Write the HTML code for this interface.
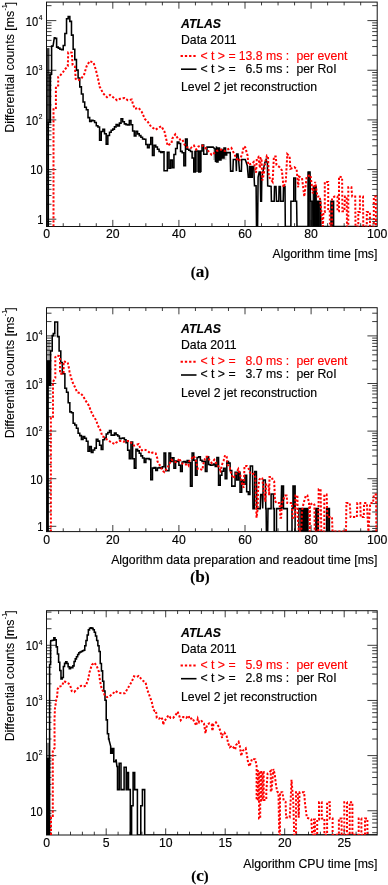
<!DOCTYPE html>
<html><head><meta charset="utf-8"><style>
html,body{margin:0;padding:0;background:#fff;width:388px;height:885px;overflow:hidden}
svg text{font-family:"Liberation Sans",sans-serif;font-size:12.25px;fill:#000;stroke:#000;stroke-width:0.15px}
svg .red text{fill:#f00;stroke:#f00}
svg text.yl{font-size:12.1px}
svg text.yt{font-size:12.35px;stroke-width:0.08px}
svg text.cap{font-family:"Liberation Serif",serif;font-weight:bold;font-size:14.6px}
</style></head><body>
<svg width="388" height="885" viewBox="0 0 388 885" style="position:absolute;left:0;top:0;filter:blur(0.35px)"><rect width="388" height="885" fill="#fff"/><path d="M63.23 226.50V223.20M63.23 2.10V5.40M79.75 226.50V223.20M79.75 2.10V5.40M96.28 226.50V223.20M96.28 2.10V5.40M112.80 226.50V219.90M112.80 2.10V8.70M129.32 226.50V223.20M129.32 2.10V5.40M145.85 226.50V223.20M145.85 2.10V5.40M162.38 226.50V223.20M162.38 2.10V5.40M178.90 226.50V219.90M178.90 2.10V8.70M195.43 226.50V223.20M195.43 2.10V5.40M211.95 226.50V223.20M211.95 2.10V5.40M228.48 226.50V223.20M228.48 2.10V5.40M245.00 226.50V219.90M245.00 2.10V8.70M261.53 226.50V223.20M261.53 2.10V5.40M278.05 226.50V223.20M278.05 2.10V5.40M294.57 226.50V223.20M294.57 2.10V5.40M311.10 226.50V219.90M311.10 2.10V8.70M327.62 226.50V223.20M327.62 2.10V5.40M344.15 226.50V223.20M344.15 2.10V5.40M360.68 226.50V223.20M360.68 2.10V5.40M46.50 224.01H51.50M377.20 224.01H372.20M46.50 221.47H51.50M377.20 221.47H372.20M46.50 219.20H56.30M377.20 219.20H367.40M46.50 204.25H51.50M377.20 204.25H372.20M46.50 195.51H51.50M377.20 195.51H372.20M46.50 189.31H51.50M377.20 189.31H372.20M46.50 184.50H51.50M377.20 184.50H372.20M46.50 180.56H51.50M377.20 180.56H372.20M46.50 177.24H51.50M377.20 177.24H372.20M46.50 174.36H51.50M377.20 174.36H372.20M46.50 171.82H51.50M377.20 171.82H372.20M46.50 169.55H56.30M377.20 169.55H367.40M46.50 154.60H51.50M377.20 154.60H372.20M46.50 145.86H51.50M377.20 145.86H372.20M46.50 139.66H51.50M377.20 139.66H372.20M46.50 134.85H51.50M377.20 134.85H372.20M46.50 130.91H51.50M377.20 130.91H372.20M46.50 127.59H51.50M377.20 127.59H372.20M46.50 124.71H51.50M377.20 124.71H372.20M46.50 122.17H51.50M377.20 122.17H372.20M46.50 119.90H56.30M377.20 119.90H367.40M46.50 104.95H51.50M377.20 104.95H372.20M46.50 96.21H51.50M377.20 96.21H372.20M46.50 90.01H51.50M377.20 90.01H372.20M46.50 85.20H51.50M377.20 85.20H372.20M46.50 81.26H51.50M377.20 81.26H372.20M46.50 77.94H51.50M377.20 77.94H372.20M46.50 75.06H51.50M377.20 75.06H372.20M46.50 72.52H51.50M377.20 72.52H372.20M46.50 70.25H56.30M377.20 70.25H367.40M46.50 55.30H51.50M377.20 55.30H372.20M46.50 46.56H51.50M377.20 46.56H372.20M46.50 40.36H51.50M377.20 40.36H372.20M46.50 35.55H51.50M377.20 35.55H372.20M46.50 31.61H51.50M377.20 31.61H372.20M46.50 28.29H51.50M377.20 28.29H372.20M46.50 25.41H51.50M377.20 25.41H372.20M46.50 22.87H51.50M377.20 22.87H372.20M46.50 20.60H56.30M377.20 20.60H367.40M46.50 5.65H51.50M377.20 5.65H372.20" stroke="#1a1a1a" stroke-width="0.85" fill="none"/><rect x="46.5" y="2.1" width="330.70" height="224.40" stroke="#111" stroke-width="1.0" fill="none"/><text x="46.70" y="238.3" text-anchor="middle">0</text><text x="112.80" y="238.3" text-anchor="middle">20</text><text x="178.90" y="238.3" text-anchor="middle">40</text><text x="245.00" y="238.3" text-anchor="middle">60</text><text x="311.10" y="238.3" text-anchor="middle">80</text><text x="377.20" y="238.3" text-anchor="middle">100</text><text class="yl" transform="translate(43.4 224.05) scale(0.92 1)" text-anchor="end">1</text><text class="yl" transform="translate(42.6 174.40) scale(0.92 1)" text-anchor="end">10</text><text class="yl" transform="translate(42.4 124.95) scale(0.92 1)" text-anchor="end">10<tspan dy="-5.6" dx="0.6" font-size="7.2">2</tspan></text><text class="yl" transform="translate(42.4 75.30) scale(0.92 1)" text-anchor="end">10<tspan dy="-5.6" dx="0.6" font-size="7.2">3</tspan></text><text class="yl" transform="translate(42.4 25.65) scale(0.92 1)" text-anchor="end">10<tspan dy="-5.6" dx="0.6" font-size="7.2">4</tspan></text><text class="yt" transform="translate(13.7 1.8) rotate(-90)" text-anchor="end">Differential counts [ms<tspan dy="-6.8" dx="0.3" font-size="7">-1</tspan><tspan dy="6.8" dx="-0.9">]</tspan></text><text x="377.4" y="258.2" text-anchor="end">Algorithm time [ms]</text><text x="200" y="277.2" text-anchor="middle" class="cap">(<tspan style="font-size:17.2px">a</tspan>)</text><text x="181" y="27.6" font-weight="bold" font-style="italic">ATLAS</text><text x="181" y="43.6">Data 2011</text><path d="M180.6 55.9H195.8" stroke="#f00" stroke-width="2" stroke-dasharray="2.3 1.95"/><g class="red"><text x="200.5" y="59.6">&lt; t &gt; =</text><text x="262.5" y="59.6" text-anchor="end">13.8</text><text x="266" y="59.6">ms :</text><text x="296.4" y="59.6">per event</text></g><path d="M181 69.2H196.5" stroke="#000" stroke-width="1.6"/><g fill="#000"><text x="200.5" y="72.6">&lt; t &gt; =</text><text x="262.5" y="72.6" text-anchor="end">6.5</text><text x="266" y="72.6">ms :</text><text x="296.4" y="72.6">per RoI</text></g><text x="181" y="91.4">Level 2 jet reconstruction</text><path d="M63.23 531.60V528.30M63.23 307.70V311.00M79.75 531.60V528.30M79.75 307.70V311.00M96.28 531.60V528.30M96.28 307.70V311.00M112.80 531.60V525.00M112.80 307.70V314.30M129.32 531.60V528.30M129.32 307.70V311.00M145.85 531.60V528.30M145.85 307.70V311.00M162.38 531.60V528.30M162.38 307.70V311.00M178.90 531.60V525.00M178.90 307.70V314.30M195.43 531.60V528.30M195.43 307.70V311.00M211.95 531.60V528.30M211.95 307.70V311.00M228.48 531.60V528.30M228.48 307.70V311.00M245.00 531.60V525.00M245.00 307.70V314.30M261.53 531.60V528.30M261.53 307.70V311.00M278.05 531.60V528.30M278.05 307.70V311.00M294.57 531.60V528.30M294.57 307.70V311.00M311.10 531.60V525.00M311.10 307.70V314.30M327.62 531.60V528.30M327.62 307.70V311.00M344.15 531.60V528.30M344.15 307.70V311.00M360.68 531.60V528.30M360.68 307.70V311.00M46.50 530.91H51.50M377.20 530.91H372.20M46.50 528.48H51.50M377.20 528.48H372.20M46.50 526.30H56.30M377.20 526.30H367.40M46.50 511.97H51.50M377.20 511.97H372.20M46.50 503.59H51.50M377.20 503.59H372.20M46.50 497.64H51.50M377.20 497.64H372.20M46.50 493.03H51.50M377.20 493.03H372.20M46.50 489.26H51.50M377.20 489.26H372.20M46.50 486.07H51.50M377.20 486.07H372.20M46.50 483.31H51.50M377.20 483.31H372.20M46.50 480.88H51.50M377.20 480.88H372.20M46.50 478.70H56.30M377.20 478.70H367.40M46.50 464.37H51.50M377.20 464.37H372.20M46.50 455.99H51.50M377.20 455.99H372.20M46.50 450.04H51.50M377.20 450.04H372.20M46.50 445.43H51.50M377.20 445.43H372.20M46.50 441.66H51.50M377.20 441.66H372.20M46.50 438.47H51.50M377.20 438.47H372.20M46.50 435.71H51.50M377.20 435.71H372.20M46.50 433.28H51.50M377.20 433.28H372.20M46.50 431.10H56.30M377.20 431.10H367.40M46.50 416.77H51.50M377.20 416.77H372.20M46.50 408.39H51.50M377.20 408.39H372.20M46.50 402.44H51.50M377.20 402.44H372.20M46.50 397.83H51.50M377.20 397.83H372.20M46.50 394.06H51.50M377.20 394.06H372.20M46.50 390.87H51.50M377.20 390.87H372.20M46.50 388.11H51.50M377.20 388.11H372.20M46.50 385.68H51.50M377.20 385.68H372.20M46.50 383.50H56.30M377.20 383.50H367.40M46.50 369.17H51.50M377.20 369.17H372.20M46.50 360.79H51.50M377.20 360.79H372.20M46.50 354.84H51.50M377.20 354.84H372.20M46.50 350.23H51.50M377.20 350.23H372.20M46.50 346.46H51.50M377.20 346.46H372.20M46.50 343.27H51.50M377.20 343.27H372.20M46.50 340.51H51.50M377.20 340.51H372.20M46.50 338.08H51.50M377.20 338.08H372.20M46.50 335.90H56.30M377.20 335.90H367.40M46.50 321.57H51.50M377.20 321.57H372.20M46.50 313.19H51.50M377.20 313.19H372.20" stroke="#1a1a1a" stroke-width="0.85" fill="none"/><rect x="46.5" y="307.7" width="330.70" height="223.90" stroke="#111" stroke-width="1.0" fill="none"/><text x="46.70" y="544.0" text-anchor="middle">0</text><text x="112.80" y="544.0" text-anchor="middle">20</text><text x="178.90" y="544.0" text-anchor="middle">40</text><text x="245.00" y="544.0" text-anchor="middle">60</text><text x="311.10" y="544.0" text-anchor="middle">80</text><text x="377.20" y="544.0" text-anchor="middle">100</text><text class="yl" transform="translate(43.4 531.15) scale(0.92 1)" text-anchor="end">1</text><text class="yl" transform="translate(42.6 483.55) scale(0.92 1)" text-anchor="end">10</text><text class="yl" transform="translate(42.4 436.15) scale(0.92 1)" text-anchor="end">10<tspan dy="-5.6" dx="0.6" font-size="7.2">2</tspan></text><text class="yl" transform="translate(42.4 388.55) scale(0.92 1)" text-anchor="end">10<tspan dy="-5.6" dx="0.6" font-size="7.2">3</tspan></text><text class="yl" transform="translate(42.4 340.95) scale(0.92 1)" text-anchor="end">10<tspan dy="-5.6" dx="0.6" font-size="7.2">4</tspan></text><text class="yt" transform="translate(13.7 307.4) rotate(-90)" text-anchor="end">Differential counts [ms<tspan dy="-6.8" dx="0.3" font-size="7">-1</tspan><tspan dy="6.8" dx="-0.9">]</tspan></text><text x="377.4" y="564.0" text-anchor="end">Algorithm data preparation and readout time [ms]</text><text x="200" y="582.4" text-anchor="middle" class="cap">(<tspan style="font-size:17.2px">b</tspan>)</text><text x="181" y="333.4" font-weight="bold" font-style="italic">ATLAS</text><text x="181" y="349.4">Data 2011</text><path d="M180.6 361.7H195.8" stroke="#f00" stroke-width="2" stroke-dasharray="2.3 1.95"/><g class="red"><text x="200.5" y="365.4">&lt; t &gt; =</text><text x="262.5" y="365.4" text-anchor="end">8.0</text><text x="266" y="365.4">ms :</text><text x="296.4" y="365.4">per event</text></g><path d="M181 375.0H196.5" stroke="#000" stroke-width="1.6"/><g fill="#000"><text x="200.5" y="378.4">&lt; t &gt; =</text><text x="262.5" y="378.4" text-anchor="end">3.7</text><text x="266" y="378.4">ms :</text><text x="296.4" y="378.4">per RoI</text></g><text x="181" y="397.2">Level 2 jet reconstruction</text><path d="M58.60 835.00V831.70M58.60 610.70V614.00M70.50 835.00V831.70M70.50 610.70V614.00M82.40 835.00V831.70M82.40 610.70V614.00M94.30 835.00V831.70M94.30 610.70V614.00M106.20 835.00V828.40M106.20 610.70V617.30M118.10 835.00V831.70M118.10 610.70V614.00M130.00 835.00V831.70M130.00 610.70V614.00M141.90 835.00V831.70M141.90 610.70V614.00M153.80 835.00V831.70M153.80 610.70V614.00M165.70 835.00V828.40M165.70 610.70V617.30M177.60 835.00V831.70M177.60 610.70V614.00M189.50 835.00V831.70M189.50 610.70V614.00M201.40 835.00V831.70M201.40 610.70V614.00M213.30 835.00V831.70M213.30 610.70V614.00M225.20 835.00V828.40M225.20 610.70V617.30M237.10 835.00V831.70M237.10 610.70V614.00M249.00 835.00V831.70M249.00 610.70V614.00M260.90 835.00V831.70M260.90 610.70V614.00M272.80 835.00V831.70M272.80 610.70V614.00M284.70 835.00V828.40M284.70 610.70V617.30M296.60 835.00V831.70M296.60 610.70V614.00M308.50 835.00V831.70M308.50 610.70V614.00M320.40 835.00V831.70M320.40 610.70V614.00M332.30 835.00V831.70M332.30 610.70V614.00M344.20 835.00V828.40M344.20 610.70V617.30M356.10 835.00V831.70M356.10 610.70V614.00M368.00 835.00V831.70M368.00 610.70V614.00M46.50 832.70H51.50M377.20 832.70H372.20M46.50 827.35H51.50M377.20 827.35H372.20M46.50 822.98H51.50M377.20 822.98H372.20M46.50 819.29H51.50M377.20 819.29H372.20M46.50 816.09H51.50M377.20 816.09H372.20M46.50 813.27H51.50M377.20 813.27H372.20M46.50 810.75H56.30M377.20 810.75H367.40M46.50 794.15H51.50M377.20 794.15H372.20M46.50 784.44H51.50M377.20 784.44H372.20M46.50 777.55H51.50M377.20 777.55H372.20M46.50 772.20H51.50M377.20 772.20H372.20M46.50 767.83H51.50M377.20 767.83H372.20M46.50 764.14H51.50M377.20 764.14H372.20M46.50 760.94H51.50M377.20 760.94H372.20M46.50 758.12H51.50M377.20 758.12H372.20M46.50 755.60H56.30M377.20 755.60H367.40M46.50 739.00H51.50M377.20 739.00H372.20M46.50 729.29H51.50M377.20 729.29H372.20M46.50 722.40H51.50M377.20 722.40H372.20M46.50 717.05H51.50M377.20 717.05H372.20M46.50 712.68H51.50M377.20 712.68H372.20M46.50 708.99H51.50M377.20 708.99H372.20M46.50 705.79H51.50M377.20 705.79H372.20M46.50 702.97H51.50M377.20 702.97H372.20M46.50 700.45H56.30M377.20 700.45H367.40M46.50 683.85H51.50M377.20 683.85H372.20M46.50 674.14H51.50M377.20 674.14H372.20M46.50 667.25H51.50M377.20 667.25H372.20M46.50 661.90H51.50M377.20 661.90H372.20M46.50 657.53H51.50M377.20 657.53H372.20M46.50 653.84H51.50M377.20 653.84H372.20M46.50 650.64H51.50M377.20 650.64H372.20M46.50 647.82H51.50M377.20 647.82H372.20M46.50 645.30H56.30M377.20 645.30H367.40M46.50 628.70H51.50M377.20 628.70H372.20M46.50 618.99H51.50M377.20 618.99H372.20M46.50 612.10H51.50M377.20 612.10H372.20" stroke="#1a1a1a" stroke-width="0.85" fill="none"/><rect x="46.5" y="610.7" width="330.70" height="224.30" stroke="#111" stroke-width="1.0" fill="none"/><text x="46.70" y="847.0" text-anchor="middle">0</text><text x="106.20" y="847.0" text-anchor="middle">5</text><text x="165.70" y="847.0" text-anchor="middle">10</text><text x="225.20" y="847.0" text-anchor="middle">15</text><text x="284.70" y="847.0" text-anchor="middle">20</text><text x="344.20" y="847.0" text-anchor="middle">25</text><text class="yl" transform="translate(42.6 815.60) scale(0.92 1)" text-anchor="end">10</text><text class="yl" transform="translate(42.4 760.65) scale(0.92 1)" text-anchor="end">10<tspan dy="-5.6" dx="0.6" font-size="7.2">2</tspan></text><text class="yl" transform="translate(42.4 705.50) scale(0.92 1)" text-anchor="end">10<tspan dy="-5.6" dx="0.6" font-size="7.2">3</tspan></text><text class="yl" transform="translate(42.4 650.35) scale(0.92 1)" text-anchor="end">10<tspan dy="-5.6" dx="0.6" font-size="7.2">4</tspan></text><text class="yt" transform="translate(13.7 610.4000000000001) rotate(-90)" text-anchor="end">Differential counts [ms<tspan dy="-6.8" dx="0.3" font-size="7">-1</tspan><tspan dy="6.8" dx="-0.9">]</tspan></text><text x="377.4" y="868.0" text-anchor="end">Algorithm CPU time [ms]</text><text x="200" y="881.3" text-anchor="middle" class="cap">(<tspan style="font-size:17.2px">c</tspan>)</text><text x="181" y="637.1" font-weight="bold" font-style="italic">ATLAS</text><text x="181" y="653.1">Data 2011</text><path d="M180.6 665.4H195.8" stroke="#f00" stroke-width="2" stroke-dasharray="2.3 1.95"/><g class="red"><text x="200.5" y="669.1">&lt; t &gt; =</text><text x="262.5" y="669.1" text-anchor="end">5.9</text><text x="266" y="669.1">ms :</text><text x="296.4" y="669.1">per event</text></g><path d="M181 678.7H196.5" stroke="#000" stroke-width="1.6"/><g fill="#000"><text x="200.5" y="682.1">&lt; t &gt; =</text><text x="262.5" y="682.1" text-anchor="end">2.8</text><text x="266" y="682.1">ms :</text><text x="296.4" y="682.1">per RoI</text></g><text x="181" y="700.9">Level 2 jet reconstruction</text><g clip-path="url(#ca)"><rect x="46.5" y="48.1" width="2.4" height="178.4" fill="#000" fill-opacity="0.8"/><rect x="48.9" y="74.0" width="1.3" height="48.4" fill="#000" fill-opacity="0.8"/><rect x="48.2" y="48.1" width="1.8" height="26" fill="#000" fill-opacity="0.35"/><rect x="193.8" y="151" width="8.1" height="21" fill="#000" fill-opacity="0.7"/><rect x="213" y="148" width="13.5" height="12" fill="#000" fill-opacity="0.2"/><rect x="307.6" y="171.9" width="2.6" height="54.6" fill="#000" fill-opacity="0.9"/><rect x="310.2" y="201.2" width="2.4" height="25.3" fill="#000" fill-opacity="0.9"/><rect x="312.6" y="186.0" width="4.0" height="40.5" fill="#000" fill-opacity="0.9"/><rect x="317.4" y="201.2" width="3.4" height="25.3" fill="#000" fill-opacity="0.9"/><rect x="331.0" y="201.2" width="3.0" height="25.3" fill="#000" fill-opacity="0.9"/><path d="M48.30 226.50 L48.30 122.40 L50.40 122.40 L50.40 74.10 L51.60 74.10 L51.60 46.10 L52.90 46.10 L53.20 45.10 L54.30 37.70 L54.30 37.70 L54.96 37.70 L54.96 38.36 L56.62 38.36 L56.62 47.10 L58.27 47.10 L58.27 48.12 L59.92 48.12 L59.92 49.20 L61.57 49.20 L61.57 49.70 L63.23 49.70 L63.23 45.48 L64.88 45.48 L64.88 33.53 L66.53 33.53 L66.53 18.81 L68.18 18.81 L68.18 16.46 L69.84 16.46 L69.84 21.35 L71.49 21.35 L71.49 35.13 L73.14 35.13 L73.14 49.23 L74.79 49.23 L74.79 59.62 L76.45 59.62 L76.45 70.12 L78.10 70.12 L78.10 77.97 L79.75 77.97 L79.75 86.88 L81.40 86.88 L81.40 94.07 L83.06 94.07 L83.06 101.90 L84.71 101.90 L84.71 107.33 L86.36 107.33 L86.36 109.68 L88.01 109.68 L88.01 117.60 L89.67 117.60 L89.67 121.54 L91.32 121.54 L91.32 120.39 L92.97 120.39 L92.97 120.76 L94.62 120.76 L94.62 122.50 L96.28 122.50 L96.28 125.80 L97.93 125.80 L97.93 126.93 L99.58 126.93 L99.58 140.17 L101.23 140.17 L101.23 131.50 L102.89 131.50 L102.89 129.37 L104.54 129.37 L104.54 133.72 L106.19 133.72 L106.19 144.31 L107.84 144.31 L107.84 135.56 L109.50 135.56 L109.50 132.18 L111.15 132.18 L111.15 130.33 L112.80 130.33 L112.80 129.10 L114.45 129.10 L114.45 126.85 L116.11 126.85 L116.11 124.40 L117.76 124.40 L117.76 125.88 L119.41 125.88 L119.41 123.14 L121.06 123.14 L121.06 118.66 L122.72 118.66 L122.72 121.66 L124.37 121.66 L124.37 123.89 L126.02 123.89 L126.02 124.60 L127.67 124.60 L127.67 124.98 L129.32 124.98 L129.32 120.54 L130.98 120.54 L130.98 124.67 L132.63 124.67 L132.63 130.93 L134.28 130.93 L134.28 135.98 L135.94 135.98 L135.94 131.23 L137.59 131.23 L137.59 133.85 L139.24 133.85 L139.24 135.62 L140.89 135.62 L140.89 137.23 L142.55 137.23 L142.55 139.07 L144.20 139.07 L144.20 139.17 L145.85 139.17 L145.85 144.54 L147.50 144.54 L147.50 147.64 L149.16 147.64 L149.16 144.59 L150.81 144.59 L150.81 137.58 L152.46 137.58 L152.46 155.40 L154.11 155.40 L154.11 145.16 L155.77 145.16 L155.77 147.06 L157.42 147.06 L157.42 149.20 L159.07 149.20 L159.07 151.40 L160.72 151.40 L160.72 152.52 L162.38 152.52 L162.38 151.67 L164.03 151.67 L164.03 170.80 L165.68 170.80 L165.68 170.80 L167.33 170.80 L167.33 152.30 L168.99 152.30 L168.99 168.21 L170.64 168.21 L170.64 159.91 L172.29 159.91 L172.29 167.70 L173.94 167.70 L173.94 154.40 L175.60 154.40 L175.60 148.53 L177.25 148.53 L177.25 142.13 L178.90 142.13 L178.90 143.55 L180.55 143.55 L180.55 151.35 L182.20 151.35 L182.20 152.70 L183.86 152.70 L183.86 165.70 L185.51 165.70 L185.51 138.90 L187.16 138.90 L187.16 149.31 L188.81 149.31 L188.81 150.29 L190.47 150.29 L190.47 151.40 L192.12 151.40 L192.12 157.96 L193.77 157.96 L193.77 171.90 L195.43 171.90 L195.43 151.00 L197.08 151.00 L197.08 151.00 L198.73 151.00 L198.73 171.90 L200.38 171.90 L200.38 151.00 L202.04 151.00 L202.04 145.00 L203.69 145.00 L203.69 154.30 L205.34 154.30 L205.34 154.30 L206.99 154.30 L206.99 147.10 L208.65 147.10 L208.65 147.10 L210.30 147.10 L210.30 147.10 L211.95 147.10 L211.95 147.10 L213.20 147.10 L213.20 147.10 L215.00 149.00 L215.50 161.90 L216.50 146.40 L216.50 161.90 L218.00 161.90 L218.00 148.00 L219.50 148.00 L219.50 160.00 L221.00 160.00 L221.00 150.00 L222.50 150.00 L222.50 158.00 L224.00 158.00 L224.00 148.00 L225.50 148.00 L225.50 155.00 L226.70 155.00 L226.70 152.60 L230.20 152.60 L230.60 171.10 L232.90 171.10 L233.30 159.50 L236.00 159.50 L236.40 171.10 L236.70 154.10 L238.00 154.10 L238.60 159.50 L239.50 171.10 L241.40 171.10 L241.70 159.50 L245.20 159.50 L246.30 162.60 L247.30 165.70 L248.30 177.30 L249.60 177.30 L249.60 166.50 L250.90 166.50 L250.90 177.30 L252.20 177.30 L252.20 166.50 L253.70 166.50 L254.50 185.80 L256.10 185.80 L256.50 226.50 L257.60 226.50 L258.10 177.30 L259.20 171.90 L260.20 171.90 L260.70 201.30 L261.50 201.30 L261.80 177.30 L264.60 163.40 L266.10 159.50 L267.40 163.40 L267.70 185.80 L271.10 186.50 L271.40 201.20 L274.20 201.20 L274.50 186.50 L276.00 186.50 L276.50 201.20 L278.80 201.20 L279.10 186.50 L280.40 186.50 L280.70 201.20 L283.20 201.20 L283.50 186.50 L285.00 186.50 L285.30 226.50 L290.90 226.50 L290.90 201.20 L293.80 201.20 L293.80 178.00 L295.50 178.00 L295.50 201.20 L296.60 201.20 L297.00 226.50 L308.20 226.50 L308.20 171.90 L310.00 171.90 L310.50 201.20 L312.80 201.20 L313.00 226.50 L314.40 226.50 L314.40 186.50 L316.00 186.50 L316.00 226.50 L316.80 226.50 L316.80 201.20 L318.30 201.20 L318.30 226.50 L318.60 226.50 L318.60 201.20 L320.60 201.20 L320.90 226.50 L331.00 226.50 L331.00 201.20 L333.60 201.20 L333.60 226.50 L377.00 226.50" stroke="#000" stroke-width="1.55" fill="none"/><path d="M53.50 226.50 L53.50 108.00 L55.90 108.00 L55.90 86.20 L58.20 85.50 L58.20 77.00 L60.10 75.60 L63.20 71.80 L65.50 68.70 L67.80 66.30 L68.20 52.40 L71.80 52.60 L72.60 65.00 L74.90 66.50 L75.70 78.90 L78.00 80.40 L81.10 78.90 L84.20 74.20 L86.50 66.50 L89.60 61.10 L93.50 62.60 L95.80 69.60 L98.10 78.90 L99.70 87.00 L100.00 87.20 L103.10 93.30 L107.00 97.20 L110.00 94.90 L113.10 97.20 L117.00 100.30 L120.10 98.80 L124.70 98.00 L127.80 100.30 L131.70 99.50 L133.20 104.90 L134.80 108.80 L138.70 108.00 L141.80 111.90 L144.80 118.90 L147.90 122.00 L151.00 126.60 L155.70 129.70 L158.00 128.00 L161.40 126.30 L164.50 131.70 L166.80 141.70 L167.60 145.60 L171.50 143.30 L172.20 138.70 L175.30 134.30 L178.40 139.40 L182.30 139.40 L184.60 144.80 L186.90 147.20 L190.80 148.00 L193.90 145.60 L196.20 149.50 L198.50 146.40 L202.40 145.60 L207.00 149.50 L211.70 154.90 L212.00 154.90 L216.60 151.00 L221.30 149.50 L225.10 151.00 L227.50 149.50 L231.30 147.90 L233.60 152.60 L236.70 158.80 L239.10 161.10 L242.20 154.10 L243.70 146.40 L245.20 147.20 L247.60 155.70 L248.30 164.90 L252.20 163.40 L253.70 161.90 L256.10 172.70 L256.80 158.80 L258.40 157.20 L259.90 168.00 L260.70 158.00 L261.50 158.00 L262.30 180.40 L263.80 174.20 L265.30 161.90 L266.90 155.70 L268.00 156.40 L268.80 176.50 L272.60 181.90 L273.90 156.40 L275.70 156.40 L276.50 164.90 L279.60 167.20 L281.90 170.30 L283.50 187.30 L285.80 181.10 L287.30 154.10 L289.60 156.40 L290.40 168.80 L294.30 167.20 L296.60 168.80 L298.20 187.30 L298.90 176.50 L302.00 178.00 L304.30 196.60 L306.70 176.50 L310.50 175.00 L312.80 193.50 L315.20 181.90 L317.50 196.60 L319.80 196.60 L321.30 210.50 L322.90 226.50 L323.50 212.00 L324.80 212.00 L324.80 181.90 L328.20 181.90 L328.20 211.30 L329.70 211.30 L330.00 226.50 L332.00 226.50 L332.00 198.10 L334.40 196.60 L337.50 196.60 L337.50 211.30 L339.00 211.30 L339.00 176.50 L342.10 177.30 L342.40 211.30 L344.40 211.30 L344.90 196.60 L346.70 196.60 L347.00 226.50 L348.30 226.50 L348.30 187.30 L351.40 187.30 L352.20 196.60 L355.20 196.60 L355.50 226.50 L358.30 226.50 L358.30 212.00 L359.90 212.00 L359.90 196.60 L363.00 196.60 L363.30 226.50 L366.80 226.50 L366.80 212.00 L369.90 212.00 L370.00 226.50 L373.80 226.50 L373.80 196.60 L375.80 196.60 L376.00 226.50" stroke="#f00" stroke-width="2" fill="none" stroke-dasharray="2.2 1.8"/></g><g clip-path="url(#cb)"><rect x="46.5" y="385" width="2.0" height="146.6" fill="#000" fill-opacity="1"/><rect x="46.5" y="360.3" width="3.9" height="24.8" fill="#000" fill-opacity="1"/><rect x="46.5" y="340" width="3.9" height="20.3" fill="#000" fill-opacity="0.35"/><rect x="300.3" y="508.6" width="7.8" height="23" fill="#000" fill-opacity="0.9"/><rect x="315.5" y="508.6" width="3" height="23" fill="#000" fill-opacity="0.9"/><rect x="326.7" y="508.6" width="3" height="23" fill="#000" fill-opacity="0.9"/><rect x="281.3" y="486.1" width="2.2" height="22.5" fill="#000" fill-opacity="0.9"/><rect x="293" y="486.1" width="2.1" height="22.5" fill="#000" fill-opacity="0.9"/><path d="M48.00 531.60 L48.00 385.10 L50.60 385.10 L50.60 351.00 L52.20 351.00 L52.20 335.60 L53.30 335.60 L53.30 333.60 L54.80 333.60 L54.80 322.00 L57.60 322.00 L57.60 336.60 L59.10 336.60 L59.10 351.00 L60.80 351.00 L60.80 362.40 L62.30 362.40 L62.30 373.80 L63.23 373.80 L63.23 373.80 L64.88 373.80 L64.88 388.20 L66.53 388.20 L66.53 392.22 L68.18 392.22 L68.18 402.68 L69.84 402.68 L69.84 411.89 L71.49 411.89 L71.49 412.78 L73.14 412.78 L73.14 423.30 L74.79 423.30 L74.79 424.97 L76.45 424.97 L76.45 428.22 L78.10 428.22 L78.10 433.16 L79.75 433.16 L79.75 435.62 L81.40 435.62 L81.40 439.47 L83.06 439.47 L83.06 436.60 L84.71 436.60 L84.71 438.27 L86.36 438.27 L86.36 441.30 L88.01 441.30 L88.01 451.30 L89.67 451.30 L89.67 446.61 L91.32 446.61 L91.32 452.43 L92.97 452.43 L92.97 450.05 L94.62 450.05 L94.62 448.11 L96.28 448.11 L96.28 439.23 L97.93 439.23 L97.93 441.13 L99.58 441.13 L99.58 445.27 L101.23 445.27 L101.23 449.50 L102.89 449.50 L102.89 439.76 L104.54 439.76 L104.54 437.94 L106.19 437.94 L106.19 434.09 L107.84 434.09 L107.84 432.48 L109.50 432.48 L109.50 430.49 L111.15 430.49 L111.15 435.20 L112.80 435.20 L112.80 435.12 L114.45 435.12 L114.45 433.12 L116.11 433.12 L116.11 434.79 L117.76 434.79 L117.76 436.02 L119.41 436.02 L119.41 438.68 L121.06 438.68 L121.06 438.26 L122.72 438.26 L122.72 437.94 L124.37 437.94 L124.37 439.66 L126.02 439.66 L126.02 442.64 L127.67 442.64 L127.67 450.21 L129.32 450.21 L129.32 458.80 L130.98 458.80 L130.98 441.90 L132.63 441.90 L132.63 458.69 L134.28 458.69 L134.28 468.10 L135.94 468.10 L135.94 449.34 L137.59 449.34 L137.59 450.87 L139.24 450.87 L139.24 453.15 L140.89 453.15 L140.89 455.87 L142.55 455.87 L142.55 458.00 L144.20 458.00 L144.20 462.36 L145.85 462.36 L145.85 458.62 L147.50 458.62 L147.50 458.52 L149.16 458.52 L149.16 459.37 L150.81 459.37 L150.81 479.70 L152.46 479.70 L152.46 468.10 L154.11 468.10 L154.11 467.62 L155.77 467.62 L155.77 470.55 L157.42 470.55 L157.42 467.97 L159.07 467.97 L159.07 467.60 L160.72 467.60 L160.72 468.10 L162.38 468.10 L162.38 466.76 L164.03 466.76 L164.03 452.90 L165.68 452.90 L165.68 470.70 L167.33 470.70 L167.33 470.70 L168.99 470.70 L168.99 452.90 L170.64 452.90 L170.64 461.36 L172.29 461.36 L172.29 457.66 L173.94 457.66 L173.94 468.30 L175.60 468.30 L175.60 460.91 L177.25 460.91 L177.25 461.36 L178.90 461.36 L178.90 465.16 L180.55 465.16 L180.55 471.40 L182.20 471.40 L182.20 462.03 L183.86 462.03 L183.86 461.48 L185.51 461.48 L185.51 462.72 L187.16 462.72 L187.16 460.49 L188.81 460.49 L188.81 462.75 L190.47 462.75 L190.47 486.10 L192.12 486.10 L192.12 452.90 L193.77 452.90 L193.77 460.32 L195.43 460.32 L195.43 475.30 L197.08 475.30 L197.08 457.40 L198.73 457.40 L198.73 456.80 L200.38 456.80 L200.38 460.20 L202.04 460.20 L202.04 461.40 L203.69 461.40 L203.69 461.38 L205.34 461.38 L205.34 471.40 L206.99 471.40 L206.99 456.80 L208.65 456.80 L208.65 464.56 L210.30 464.56 L210.30 465.11 L211.95 465.11 L211.95 464.97 L213.60 464.97 L213.60 464.00 L215.25 464.00 L215.25 466.44 L216.91 466.44 L216.91 457.50 L218.56 457.50 L218.56 485.12 L220.21 485.12 L220.21 475.30 L221.87 475.30 L221.87 471.16 L223.52 471.16 L223.52 468.30 L225.17 468.30 L225.17 478.64 L226.82 478.64 L226.82 461.40 L228.48 461.40 L228.48 463.13 L230.13 463.13 L230.13 470.60 L231.78 470.60 L231.78 486.10 L233.43 486.10 L233.43 486.10 L235.09 486.10 L235.09 472.20 L236.74 472.20 L236.74 480.00 L238.39 480.00 L238.39 472.20 L240.04 472.20 L240.04 492.27 L241.69 492.27 L241.69 480.32 L243.35 480.32 L243.35 484.22 L245.00 484.22 L245.00 475.30 L246.65 475.30 L246.65 491.67 L248.31 491.67 L248.31 494.57 L249.90 494.57 L249.90 486.10 L250.30 466.00 L252.50 466.00 L253.00 508.60 L254.50 508.60 L254.80 471.40 L256.40 471.40 L256.80 508.60 L260.20 508.60 L260.70 494.60 L262.30 494.60 L262.70 508.60 L263.30 480.00 L265.30 480.00 L265.80 508.60 L266.10 508.60 L266.40 531.60 L267.70 531.60 L268.00 508.60 L271.10 508.60 L271.10 493.90 L273.40 493.90 L273.40 508.60 L274.20 508.60 L274.20 531.60 L276.50 531.60 L276.50 508.60 L281.10 508.60 L281.60 486.10 L283.50 486.10 L283.50 508.60 L287.30 508.60 L287.30 531.60 L292.00 531.60 L292.00 508.60 L293.00 508.60 L293.00 486.10 L295.10 486.10 L295.10 531.60 L298.90 531.60 L298.90 508.60 L301.20 508.60 L301.20 531.60 L302.20 531.60 L302.20 508.60 L303.40 508.60 L303.40 531.60 L304.60 531.60 L304.60 508.60 L305.80 508.60 L305.80 531.60 L306.90 531.60 L306.90 508.60 L307.90 508.60 L307.90 531.60 L315.90 531.60 L315.90 508.60 L318.30 508.60 L318.30 531.60 L326.60 531.60 L326.60 508.60 L329.40 508.60 L329.40 531.60 L377.00 531.60" stroke="#000" stroke-width="1.55" fill="none"/><path d="M50.90 531.60 L50.90 418.30 L53.00 418.30 L53.00 381.80 L55.30 378.00 L55.30 357.30 L56.50 355.60 L59.00 356.00 L60.00 357.50 L60.00 373.80 L63.60 373.80 L63.60 361.40 L67.70 362.40 L68.90 368.00 L69.50 371.50 L71.10 377.70 L72.60 382.30 L74.90 387.00 L77.20 392.40 L80.30 393.10 L82.70 395.50 L85.80 400.90 L88.80 405.50 L91.20 411.70 L93.50 416.30 L96.60 421.00 L97.30 424.30 L99.70 428.90 L100.80 431.00 L102.30 436.40 L104.60 437.20 L107.00 439.50 L109.30 441.00 L111.60 442.60 L114.70 444.10 L116.20 442.60 L119.30 441.00 L121.60 441.00 L124.00 441.80 L126.30 441.00 L129.40 441.00 L131.70 443.30 L134.00 445.70 L136.30 444.90 L138.70 444.10 L140.20 448.00 L141.80 450.30 L144.10 449.50 L146.40 450.30 L148.70 451.90 L150.30 453.40 L152.60 452.60 L155.70 453.40 L157.20 458.00 L157.50 461.40 L159.10 464.50 L160.60 466.00 L162.20 470.70 L164.50 472.20 L167.60 467.60 L169.90 462.90 L171.50 459.80 L173.80 461.40 L176.10 462.20 L177.60 461.40 L179.20 458.30 L180.70 461.40 L183.10 464.50 L186.20 464.50 L188.50 466.00 L189.20 461.40 L193.90 456.00 L196.20 461.40 L197.80 469.10 L200.10 469.10 L202.40 469.90 L203.20 464.50 L205.50 456.80 L207.80 456.80 L209.30 459.80 L211.70 462.90 L214.30 459.80 L215.90 462.90 L218.20 466.00 L220.50 470.70 L222.10 464.50 L223.60 460.60 L225.10 455.20 L226.70 456.80 L227.50 464.50 L229.80 467.60 L231.30 474.50 L233.60 478.40 L236.00 473.80 L238.30 469.10 L240.60 476.10 L242.20 484.60 L243.70 487.70 L244.50 466.00 L246.80 466.00 L248.30 467.60 L249.90 472.20 L251.40 474.50 L253.70 473.80 L255.30 476.90 L256.10 501.60 L256.50 517.80 L257.60 509.30 L258.10 489.20 L259.20 480.00 L260.70 477.60 L262.30 478.40 L263.80 492.30 L265.30 501.60 L266.10 484.60 L268.40 484.60 L269.20 495.40 L269.50 476.90 L271.90 476.90 L272.60 480.00 L274.20 481.50 L275.00 500.80 L276.50 503.10 L279.60 503.10 L280.40 517.80 L281.10 517.80 L281.90 503.10 L285.00 495.40 L286.60 495.40 L287.30 503.10 L292.00 503.10 L292.70 517.80 L295.10 517.80 L295.50 495.40 L297.40 495.40 L297.70 517.80 L298.90 531.60 L301.20 531.60 L302.00 510.90 L303.60 503.10 L305.90 495.40 L307.40 495.40 L309.00 503.10 L309.80 531.60 L310.10 504.70 L312.80 503.10 L314.40 504.70 L314.70 531.60 L318.30 531.60 L318.70 489.20 L320.60 489.20 L321.30 531.60 L324.30 531.60 L324.30 494.60 L326.60 494.60 L327.40 517.10 L332.00 517.10 L332.50 531.60 L346.00 531.60 L346.40 503.10 L349.80 503.10 L350.60 517.10 L356.80 517.10 L357.30 503.10 L360.30 503.10 L360.70 517.10 L363.80 517.10 L364.10 503.10 L366.80 503.10 L367.60 517.10 L368.40 531.60 L370.20 503.10 L373.00 503.10 L373.80 494.60 L376.10 494.60 L376.40 531.60" stroke="#f00" stroke-width="2" fill="none" stroke-dasharray="2.2 1.8"/></g><g clip-path="url(#cc)"><rect x="46.5" y="758" width="2.5" height="77" fill="#000" fill-opacity="1"/><rect x="46.5" y="742.8" width="2.5" height="15.2" fill="#000" fill-opacity="0.5"/><path d="M49.60 835.00 L49.60 664.40 L50.60 664.40 L50.60 641.80 L50.80 640.90 L50.80 640.81 L51.46 640.81 L51.46 640.55 L52.65 640.55 L52.65 640.22 L53.84 640.22 L53.84 637.82 L55.03 637.82 L55.03 639.87 L56.22 639.87 L56.22 646.88 L57.41 646.88 L57.41 654.09 L58.60 654.09 L58.60 662.27 L59.79 662.27 L59.79 670.57 L60.98 670.57 L60.98 678.95 L62.17 678.95 L62.17 677.42 L63.36 677.42 L63.36 666.47 L64.55 666.47 L64.55 663.37 L65.74 663.37 L65.74 661.70 L66.93 661.70 L66.93 663.40 L68.12 663.40 L68.12 666.66 L69.31 666.66 L69.31 668.80 L70.50 668.80 L70.50 667.21 L71.69 667.21 L71.69 667.83 L72.88 667.83 L72.88 665.87 L74.07 665.87 L74.07 661.58 L75.26 661.58 L75.26 658.87 L76.45 658.87 L76.45 656.77 L77.64 656.77 L77.64 654.46 L78.83 654.46 L78.83 652.75 L80.02 652.75 L80.02 652.01 L81.21 652.01 L81.21 651.43 L82.40 651.43 L82.40 650.84 L83.59 650.84 L83.59 650.21 L84.78 650.21 L84.78 645.65 L85.97 645.65 L85.97 640.48 L87.16 640.48 L87.16 634.98 L88.35 634.98 L88.35 629.89 L89.54 629.89 L89.54 628.18 L90.73 628.18 L90.73 627.80 L91.92 627.80 L91.92 628.38 L93.11 628.38 L93.11 629.72 L94.30 629.72 L94.30 632.18 L95.49 632.18 L95.49 636.06 L96.68 636.06 L96.68 640.59 L97.87 640.59 L97.87 645.78 L99.06 645.78 L99.06 651.58 L100.25 651.58 L100.25 663.48 L101.44 663.48 L101.44 670.86 L102.63 670.86 L102.63 681.23 L103.82 681.23 L103.82 691.07 L105.01 691.07 L105.01 700.33 L106.20 700.33 L106.20 719.87 L107.39 719.87 L107.39 733.71 L108.58 733.71 L108.58 738.90 L109.10 738.90 L109.10 740.10 L110.70 746.30 L110.70 753.20 L112.20 753.20 L112.20 748.60 L113.80 748.60 L113.80 761.70 L115.30 761.70 L116.10 759.40 L116.90 766.40 L117.50 766.40 L117.50 789.60 L119.20 789.60 L119.20 763.30 L121.00 763.30 L121.00 789.60 L124.10 789.60 L124.10 767.20 L126.20 767.20 L126.20 789.60 L126.90 789.60 L126.90 772.60 L128.50 772.60 L128.50 789.60 L130.30 789.60 L130.30 835.00 L131.60 835.00 L131.60 805.80 L133.10 805.80 L133.10 772.60 L134.70 772.60 L134.70 789.60 L137.40 789.60 L137.40 835.00 L140.80 835.00 L140.80 805.80 L142.40 805.80 L142.40 789.60 L144.70 789.60 L144.70 835.00 L377.00 835.00" stroke="#000" stroke-width="1.55" fill="none"/><path d="M51.00 835.00 L51.00 816.00 L52.80 816.00 L52.80 750.00 L54.60 748.00 L54.50 720.00 L54.90 708.70 L56.30 699.60 L57.20 696.00 L57.60 689.20 L59.00 686.50 L61.70 686.10 L64.10 681.10 L66.40 682.70 L68.70 683.50 L70.30 685.80 L71.80 691.20 L74.20 692.00 L76.50 689.60 L78.80 687.30 L81.10 685.80 L83.40 686.50 L85.80 685.80 L88.10 679.60 L89.60 671.90 L91.90 664.90 L94.30 662.60 L96.60 665.70 L98.90 671.90 L100.00 681.00 L101.50 687.90 L104.60 694.90 L107.00 697.20 L109.30 696.40 L112.40 694.10 L115.50 691.00 L117.80 692.60 L121.60 693.30 L124.70 693.30 L127.10 689.50 L129.40 685.60 L131.70 681.80 L134.00 676.30 L136.30 677.10 L138.70 675.90 L141.00 678.70 L143.30 681.00 L145.60 682.50 L147.20 689.50 L149.50 695.70 L151.80 701.90 L153.30 709.60 L154.90 711.10 L156.00 711.00 L156.80 717.90 L159.10 718.70 L161.40 717.10 L163.00 721.00 L163.00 724.80 L164.50 721.00 L166.80 717.90 L168.40 715.30 L170.70 717.90 L173.00 717.90 L175.30 715.60 L177.60 711.70 L179.20 715.60 L180.70 720.20 L183.10 717.10 L184.60 717.10 L186.20 717.90 L188.50 715.60 L190.00 719.40 L192.30 717.90 L193.90 721.00 L196.20 725.60 L197.80 718.70 L199.30 722.50 L201.60 721.00 L203.90 723.30 L205.50 733.30 L207.00 724.80 L209.30 723.30 L211.70 724.10 L212.40 731.00 L213.50 724.70 L215.90 722.40 L219.00 727.10 L220.50 731.70 L222.10 737.90 L222.80 733.20 L224.40 732.50 L226.70 736.30 L228.20 743.30 L229.80 747.20 L232.10 745.60 L235.20 749.50 L236.00 745.20 L238.60 741.90 L239.90 746.40 L241.20 756.10 L242.40 751.00 L245.70 748.40 L247.00 755.50 L248.20 763.20 L249.50 766.40 L252.10 758.70 L255.30 759.30 L256.60 765.80 L256.60 800.00 L257.80 800.00 L257.80 771.00 L259.00 771.00 L259.00 818.60 L260.20 818.60 L260.20 771.00 L261.40 771.00 L261.40 800.60 L262.60 800.60 L262.60 772.00 L263.70 772.00 L263.70 800.00 L266.30 800.00 L266.30 791.50 L267.60 773.50 L270.80 770.90 L270.80 791.50 L271.50 791.50 L273.40 769.00 L274.70 774.10 L276.00 785.10 L277.20 791.50 L278.50 792.80 L279.20 834.70 L280.00 834.70 L280.00 792.20 L282.40 792.20 L283.70 800.60 L285.60 801.90 L286.10 817.60 L289.70 817.60 L290.60 801.30 L291.50 779.70 L293.30 801.30 L294.20 834.70 L296.00 834.70 L296.00 792.30 L297.80 792.30 L298.70 817.60 L299.60 792.30 L304.10 792.30 L305.00 803.10 L306.80 817.60 L311.30 819.40 L312.20 834.70 L314.00 834.70 L314.00 819.40 L315.00 819.40 L315.00 834.70 L317.20 834.70 L317.20 819.40 L319.00 819.40 L319.00 802.20 L321.70 802.20 L321.70 818.50 L324.40 818.50 L324.40 834.70 L327.10 834.70 L327.10 802.20 L329.80 802.20 L329.80 818.50 L332.60 818.50 L332.60 834.70 L338.90 834.70 L338.90 818.50 L341.60 818.50 L341.60 834.70 L344.30 834.70 L344.30 802.20 L347.00 802.20 L347.00 834.70 L349.70 834.70 L349.70 802.20 L352.40 802.20 L352.40 834.70 L358.70 834.70 L358.70 818.50 L361.40 818.50 L361.40 834.70 L365.00 834.70 L365.00 818.50 L367.40 818.50 L367.40 834.70" stroke="#f00" stroke-width="2" fill="none" stroke-dasharray="2.2 1.8"/></g><defs><clipPath id="ca"><rect x="46.5" y="2.1" width="330.70" height="224.40"/></clipPath><clipPath id="cb"><rect x="46.5" y="307.7" width="330.70" height="223.90"/></clipPath><clipPath id="cc"><rect x="46.5" y="610.7" width="330.70" height="224.30"/></clipPath></defs></svg>
</body></html>
